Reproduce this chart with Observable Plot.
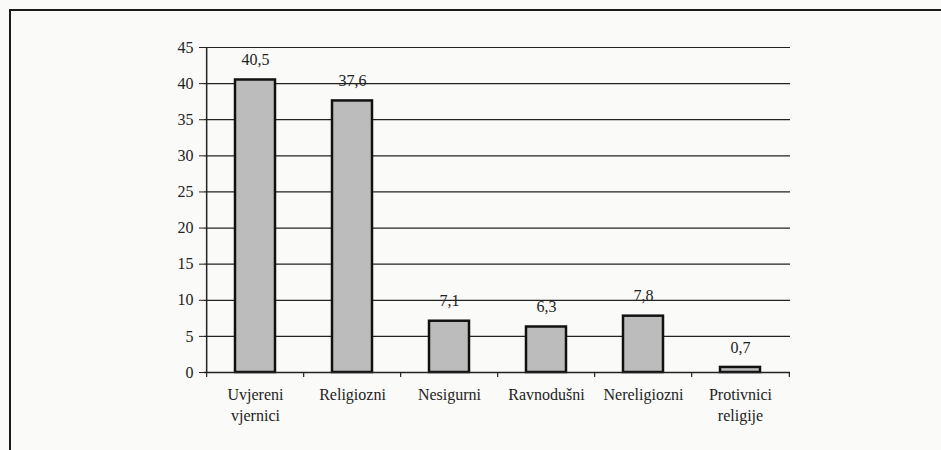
<!DOCTYPE html>
<html>
<head>
<meta charset="utf-8">
<script src="https://cdn.jsdelivr.net/npm/d3@7"></script>
<script src="https://cdn.jsdelivr.net/npm/@observablehq/plot@0.6"></script>
<style>
  html, body { margin: 0; padding: 0; background: #fafaf8; }
  #wrap { position: relative; width: 941px; height: 450px; overflow: hidden; }
  #frame { position: absolute; left: 9px; top: 9px; width: 940px; height: 450px;
           border-top: 2px solid #1a1a1a; border-left: 2px solid #1a1a1a; }
  #chart { position: absolute; left: 0; top: 0; }
  #chart svg, #chart svg text, #chart svg g { font-family: "Liberation Serif", serif !important; }
</style>
</head>
<body>
<div id="wrap"><div id="frame"></div><div id="chart"></div></div>
<script>
const categories = ["Uvjereni\nvjernici", "Religiozni", "Nesigurni", "Ravnodušni", "Nereligiozni", "Protivnici\nreligije"];
const values = [40.5, 37.6, 7.1, 6.3, 7.8, 0.7];
const yTicks = [0, 5, 10, 15, 20, 25, 30, 35, 40, 45];

const data = categories.map((c, i) => ({category: c, value: values[i]}));

const W = 941, H = 450;
const mL = 204, mR = 151, mT = 47, mB = 78;
const step = (W - mL - mR) / categories.length;
const fmt = v => v.toFixed(1).replace(".", ",");
const font = "Liberation Serif";

const plot = Plot.plot({
  width: W, height: H,
  marginLeft: mL, marginRight: mR, marginTop: mT, marginBottom: mB,
  style: {background: "transparent", fontFamily: font, fontSize: "16px", color: "#222"},
  x: {domain: categories, paddingInner: 0.59, paddingOuter: 0.295, label: null},
  y: {domain: [0, 45], label: null},
  marks: [
    Plot.ruleY(yTicks.filter(t => t > 0), {stroke: "#222", strokeWidth: 1.2}),
    Plot.barY(data, {x: "category", y: "value", fill: "#bcbcbc", stroke: "#111", strokeWidth: 2.5}),
    Plot.text(data, {x: "category", y: "value", text: d => fmt(d.value), dy: -20, fontSize: 16, fontFamily: font, fill: "#222"}),
    Plot.ruleY([0], {stroke: "#222", strokeWidth: 1.5}),
    Plot.ruleX(categories, {x: d => d, dx: -step / 2, y1: 0, y2: 0, insetBottom: -5, stroke: "#222", strokeWidth: 1.2}),
    Plot.ruleX([categories[categories.length - 1]], {x: d => d, dx: step / 2, y1: 0, y2: 0, insetBottom: -5, stroke: "#222", strokeWidth: 1.2}),
    Plot.ruleX([0], {x: () => categories[0], dx: -step / 2, y1: 0, y2: 45, stroke: "#222", strokeWidth: 1.5}),
    Plot.axisY({ticks: yTicks, tickSize: 5, tickPadding: 6, fontSize: 16, fontFamily: font, label: null, stroke: "#222"}),
    Plot.axisX({tickSize: 0, tickPadding: 13, fontSize: 16, fontFamily: font, label: null, lineHeight: 1.3})
  ]
});
document.getElementById("chart").appendChild(plot);
</script>
</body>
</html>
